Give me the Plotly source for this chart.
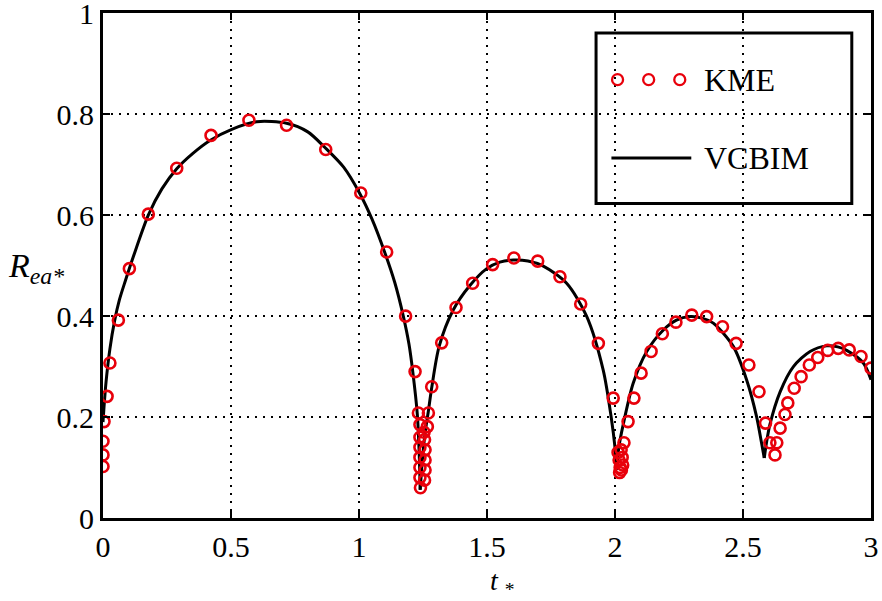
import plotly.graph_objects as go

# KME samples (t*, R_ea*)
kme_t = [0.0, 0.0, 0.0, 0.004, 0.016, 0.027, 0.060, 0.103, 0.177, 0.288, 0.422,
         0.570, 0.717, 0.870, 1.007, 1.108, 1.182, 1.219, 1.232,
         1.238, 1.238, 1.238, 1.238, 1.238, 1.238, 1.240,
         1.256, 1.258, 1.258, 1.258, 1.256, 1.254,
         1.271, 1.267, 1.284, 1.323, 1.379, 1.444, 1.522, 1.605, 1.698,
         1.785, 1.866, 1.935, 1.993,
         2.012, 2.016, 2.020, 2.025, 2.030, 2.028, 2.024, 2.018,
         2.035, 2.051, 2.074, 2.102, 2.141, 2.185, 2.238, 2.300, 2.358,
         2.420, 2.473, 2.523, 2.5625, 2.588,
         2.605, 2.632, 2.625, 2.645, 2.664, 2.675, 2.700,
         2.727, 2.759, 2.792, 2.831, 2.872, 2.915, 2.961, 3.000]
kme_r = [0.102, 0.125, 0.152, 0.191, 0.241, 0.307, 0.392, 0.494, 0.602, 0.693, 0.758,
         0.788, 0.778, 0.730, 0.644, 0.527, 0.400, 0.290, 0.208,
         0.185, 0.160, 0.140, 0.120, 0.100, 0.080, 0.060,
         0.075, 0.095, 0.115, 0.135, 0.155, 0.170,
         0.208, 0.181, 0.260, 0.347, 0.417, 0.465, 0.502, 0.515, 0.509,
         0.478, 0.424, 0.346, 0.2375,
         0.130, 0.115, 0.100, 0.095, 0.105, 0.120, 0.135, 0.090,
         0.149, 0.191, 0.2375, 0.287, 0.330, 0.365, 0.388, 0.402, 0.399,
         0.379, 0.346, 0.303, 0.250, 0.188,
         0.149, 0.149, 0.125, 0.178, 0.205, 0.228, 0.257,
         0.280, 0.303, 0.318, 0.332, 0.336, 0.333, 0.320, 0.297]

# VCBIM solution, one list pair per arch between impacts
vcbim_t1 = [0.0, 0.004, 0.012, 0.027, 0.045, 0.064, 0.088, 0.120, 0.177, 0.230, 0.288,
            0.350, 0.418, 0.503, 0.600, 0.717, 0.800, 0.867, 0.940, 1.004, 1.050,
            1.100, 1.140, 1.173, 1.195, 1.210, 1.228, 1.235, 1.239]
vcbim_r1 = [0.190, 0.220, 0.270, 0.335, 0.390, 0.432, 0.471, 0.520, 0.600, 0.652, 0.692,
            0.722, 0.748, 0.770, 0.785, 0.782, 0.765, 0.734, 0.695, 0.642, 0.593,
            0.527, 0.466, 0.400, 0.345, 0.290, 0.204, 0.130, 0.056]
vcbim_t2 = [1.239, 1.250, 1.260, 1.271, 1.284, 1.313, 1.368, 1.434, 1.499, 1.550, 1.603,
            1.660, 1.720, 1.811, 1.889, 1.954, 1.985, 2.000, 2.007]
vcbim_r2 = [0.056, 0.130, 0.175, 0.212, 0.258, 0.340, 0.412, 0.461, 0.494, 0.507, 0.511,
            0.509, 0.499, 0.465, 0.400, 0.293, 0.200, 0.140, 0.096]
vcbim_t3 = [2.007, 2.015, 2.032, 2.071, 2.124, 2.189, 2.240, 2.293, 2.340, 2.384, 2.462,
            2.514, 2.553, 2.572, 2.583]
vcbim_r3 = [0.096, 0.140, 0.185, 0.267, 0.330, 0.3725, 0.392, 0.399, 0.396, 0.386, 0.340,
            0.274, 0.201, 0.150, 0.119]
vcbim_t4 = [2.583, 2.592, 2.605, 2.645, 2.697, 2.762, 2.827, 2.870, 2.905, 2.970, 3.000]
vcbim_r4 = [0.119, 0.150, 0.185, 0.250, 0.300, 0.330, 0.341, 0.339, 0.332, 0.307, 0.274]

x_ticks = [0, 0.5, 1, 1.5, 2, 2.5, 3]
x_tick_labels = ["0", "0.5", "1", "1.5", "2", "2.5", "3"]
y_ticks = [0, 0.2, 0.4, 0.6, 0.8, 1]
y_tick_labels = ["0", "0.2", "0.4", "0.6", "0.8", "1"]

FONT = "Liberation Serif, Times New Roman, serif"
RED = "#e8000b"

fig = go.Figure()

for tt, rr in [(vcbim_t1, vcbim_r1), (vcbim_t2, vcbim_r2),
               (vcbim_t3, vcbim_r3), (vcbim_t4, vcbim_r4)]:
    fig.add_trace(go.Scatter(
        x=tt, y=rr, mode="lines",
        line=dict(color="black", width=3, shape="spline", smoothing=0.8),
        showlegend=False, hoverinfo="skip"))

fig.add_trace(go.Scatter(
    x=kme_t, y=kme_r, mode="markers",
    marker=dict(symbol="circle-open", size=11, color=RED, line=dict(width=2.6, color=RED)),
    showlegend=False))

# Legend glyphs on an overlay axis spanning the plot area in [0, 1]
fig.add_trace(go.Scatter(
    x=[0.67, 0.7105, 0.751], y=[0.868, 0.868, 0.868], mode="markers",
    xaxis="x2", yaxis="y2",
    marker=dict(symbol="circle-open", size=11, color=RED, line=dict(width=2.3, color=RED)),
    showlegend=False, hoverinfo="skip"))
fig.add_trace(go.Scatter(
    x=[0.662, 0.766], y=[0.713, 0.713], mode="lines",
    xaxis="x2", yaxis="y2",
    line=dict(color="black", width=3),
    showlegend=False, hoverinfo="skip"))

axis_common = dict(
    showline=True, linecolor="black", linewidth=3, mirror="ticks",
    ticks="inside", ticklen=7, tickwidth=2, tickcolor="black",
    showgrid=True, gridcolor="black", griddash="2px,6px", gridwidth=2,
    zeroline=False, ticklabeloverflow="allow", automargin=False,
    tickfont=dict(family=FONT, size=30, color="black"),
)

fig.update_layout(
    width=882, height=601,
    margin=dict(l=103, r=11, t=13, b=83),
    paper_bgcolor="white", plot_bgcolor="white",
    xaxis=dict(range=[0, 3], tickvals=x_ticks, ticktext=x_tick_labels, **axis_common),
    yaxis=dict(range=[0, 1.0005], tickvals=y_ticks, ticktext=y_tick_labels, **axis_common),
    xaxis2=dict(overlaying="x", range=[0, 1], visible=False),
    yaxis2=dict(overlaying="y", range=[0, 1], visible=False),
    shapes=[dict(type="rect", xref="paper", yref="paper",
                 x0=0.642, x1=0.975, y0=0.623, y1=0.9605,
                 line=dict(color="black", width=3), fillcolor="white", layer="below")],
    annotations=[
        dict(text="KME", xref="paper", yref="paper", x=0.78, y=0.868,
             xanchor="left", yanchor="middle", showarrow=False,
             font=dict(family=FONT, size=32, color="black")),
        dict(text="VCBIM", xref="paper", yref="paper", x=0.78, y=0.713,
             xanchor="left", yanchor="middle", showarrow=False,
             font=dict(family=FONT, size=32, color="black")),
        dict(text="<i>R<sub>ea*</sub></i>", xref="paper", yref="paper",
             x=-0.126, y=0.495, xanchor="left", yanchor="middle", showarrow=False,
             font=dict(family=FONT, size=34, color="black")),
        dict(text="<i>t</i> <sub>*</sub>", xref="paper", yref="paper",
             x=0.52, y=-0.127, xanchor="center", yanchor="middle", showarrow=False,
             font=dict(family=FONT, size=28, color="black")),
    ],
)

fig.write_html("out.html")
